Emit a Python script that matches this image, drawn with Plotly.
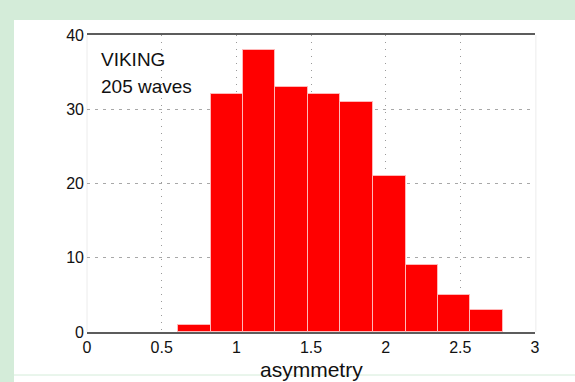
import plotly.graph_objects as go

# Histogram of wave asymmetry (10 equal-width bins)
bin_edges = [0.609, 0.827, 1.044, 1.262, 1.480, 1.697, 1.915, 2.133, 2.351, 2.568, 2.786]
counts = [1, 32, 38, 33, 32, 31, 21, 9, 5, 3]
x_ticks = [0, 0.5, 1, 1.5, 2, 2.5, 3]
x_tick_labels = ["0", "0.5", "1", "1.5", "2", "2.5", "3"]
y_ticks = [0, 10, 20, 30, 40]
y_tick_labels = ["0", "10", "20", "30", "40"]
label_lines = ["VIKING", "205 waves"]
x_title = "asymmetry"

centers = [(lo + hi) / 2 for lo, hi in zip(bin_edges[:-1], bin_edges[1:])]
widths = [hi - lo for lo, hi in zip(bin_edges[:-1], bin_edges[1:])]

FONT = "Liberation Sans, Arial, sans-serif"
GREEN = "#d4ecd9"

fig = go.Figure(
    go.Bar(
        x=centers,
        y=counts,
        width=widths,
        marker=dict(color="#ff0000", line=dict(color="#ffb8b8", width=1)),
        hoverinfo="x+y",
    )
)

W, H = 575, 382
L, R, T, B = 87, 40, 35, 50
pw, ph = W - L - R, H - T - B


def px_x(p):
    return (p - L) / pw


def px_y(p):
    return (H - B - p) / ph


fig.update_layout(
    width=W,
    height=H,
    margin=dict(l=L, r=R, t=T, b=B),
    paper_bgcolor=GREEN,
    plot_bgcolor="white",
    showlegend=False,
    bargap=0,
    font=dict(family=FONT, size=16, color="#111111"),
    xaxis=dict(
        range=[0, 3],
        tickvals=x_ticks,
        ticktext=x_tick_labels,
        showgrid=True,
        gridcolor="#9a9a9a",
        gridwidth=1,
        griddash="1px,6px",
        zeroline=False,
        showline=True,
        linecolor="#5c5c5c",
        linewidth=2,
        mirror=True,
        ticks="",
        tickfont=dict(size=16),
    ),
    yaxis=dict(
        range=[0, 40],
        tickvals=y_ticks,
        ticktext=y_tick_labels,
        showgrid=True,
        gridcolor="#a8a8a8",
        gridwidth=1,
        griddash="3px,5px",
        zeroline=False,
        showline=False,
        ticks="",
        ticklabelstandoff=2,
        tickfont=dict(size=16),
    ),
    shapes=[
        # white panel behind the axes
        dict(type="rect", xref="paper", yref="paper",
             x0=px_x(14), x1=px_x(W + 5), y0=px_y(H + 5), y1=px_y(20),
             fillcolor="white", line=dict(width=0), layer="below"),
        # faint side borders of the axes box
        dict(type="line", xref="paper", yref="paper",
             x0=0, x1=0, y0=0, y1=1, line=dict(color="#ececec", width=1), layer="below"),
        dict(type="line", xref="paper", yref="paper",
             x0=1.002, x1=1.002, y0=0, y1=1, line=dict(color="#ececec", width=1), layer="below"),
        # thin rule near the bottom edge
        dict(type="line", xref="paper", yref="paper",
             x0=px_x(14), x1=px_x(W + 5), y0=px_y(375), y1=px_y(375),
             line=dict(color=GREEN, width=1), layer="above"),
    ],
    annotations=[
        dict(text=label_lines[0], x=px_x(99), y=px_y(60), xref="paper", yref="paper",
             xanchor="left", yanchor="middle", showarrow=False,
             font=dict(size=19, color="#111111")),
        dict(text=label_lines[1], x=px_x(99), y=px_y(86), xref="paper", yref="paper",
             xanchor="left", yanchor="middle", showarrow=False,
             font=dict(size=19, color="#111111")),
        dict(text=x_title, x=0.5, y=px_y(369), xref="paper", yref="paper",
             xanchor="center", yanchor="middle", showarrow=False,
             font=dict(size=21, color="#111111")),
    ],
)

fig.write_html("out.html")
